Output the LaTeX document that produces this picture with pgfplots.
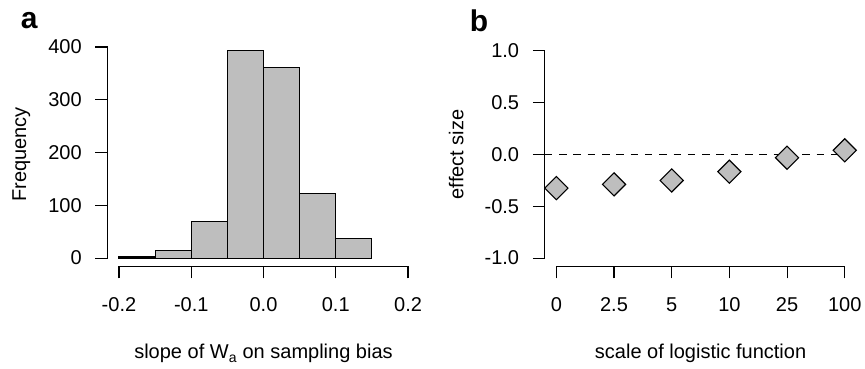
\documentclass[border=0pt]{standalone}
\usepackage{fontspec}
\setmainfont{Liberation Sans}
\usepackage{pgfplots}
\pgfplotsset{compat=1.18}
\definecolor{rgray}{RGB}{190,190,190}
\pgfplotsset{
  rstyle/.style={
    scale only axis,
    anchor=south west,
    clip=false,
    axis x line*=bottom,
    axis y line*=left,
    axis line style={draw=none},
    tick align=outside,
    major tick length=12pt,
    tick style={black, line width=1.1pt},
    minor tick num=0,
    tick label style={font=\fontsize{20}{24}\selectfont, inner sep=0pt},
    label style={font=\fontsize{20}{24}\selectfont, inner sep=0pt},
    xticklabel style={anchor=base, yshift=-33pt},
    yticklabel style={anchor=east, xshift=-13.5pt},
    xlabel style={at={(axis description cs:0.5,0)}, anchor=base, yshift=-92.6pt},
    ylabel style={rotate=0},
  }
}
\begin{document}
\begin{tikzpicture}[x=1pt,y=1pt]
\useasboundingbox (0,0) rectangle (865,369);
% ---------------- panel a ----------------
\begin{axis}[rstyle,
  at={(107.4pt,102.6pt)},
  width=312.2pt, height=224pt,
  xmin=-0.216, xmax=0.216, ymin=-15.72, ymax=408.72,
  xtick={-0.2,-0.1,0,0.1,0.2},
  xticklabels={-0.2,-0.1,0.0,0.1,0.2},
  ytick={0,100,200,300,400},
  yticklabels={0,100,200,300,400},
  xlabel={slope of W\textsubscript{a} on sampling bias},
]
\addplot[ybar interval, fill=rgray, draw=black, line width=1.1pt]
  coordinates {(-0.2,2) (-0.15,14) (-0.1,70) (-0.05,393) (0,362) (0.05,122) (0.1,37) (0.15,37)};
\draw[line width=1.1pt, line cap=rect] (axis cs:-0.2,-15.72) -- (axis cs:0.2,-15.72);
\draw[line width=1.1pt, line cap=rect] (axis cs:-0.216,0) -- (axis cs:-0.216,400);
\node[rotate=90, anchor=base, font=\fontsize{20}{24}\selectfont, inner sep=0pt]
  at ([xshift=-81.4pt]axis description cs:0,0.5) {Frequency};
\end{axis}
% ---------------- panel b ----------------
\begin{axis}[rstyle,
  at={(544.8pt,102.6pt)},
  width=311.5pt, height=224pt,
  xmin=-0.2, xmax=5.2, ymin=-1.08, ymax=1.08,
  xtick={0,1,2,3,4,5},
  xticklabels={0,2.5,5,10,25,100},
  ytick={-1,-0.5,0,0.5,1},
  yticklabels={-1.0,-0.5,0.0,0.5,1.0},
  xlabel={scale of logistic function},
]
\addplot[black, line width=1.1pt, dash pattern=on 7.5pt off 6.8pt]
  coordinates {(-0.2,0) (5.2,0)};
\addplot[only marks, mark=square*, mark size=8.2pt,
  mark options={rotate=45, fill=rgray, draw=black, line width=1.1pt, solid}]
  coordinates {(0,-0.325) (1,-0.289) (2,-0.251) (3,-0.167) (4,-0.032) (5,0.039)};
\draw[line width=1.1pt, line cap=rect] (axis cs:0,-1.08) -- (axis cs:5,-1.08);
\draw[line width=1.1pt, line cap=rect] (axis cs:-0.2,-1) -- (axis cs:-0.2,1);
\node[rotate=90, anchor=base, font=\fontsize{20}{24}\selectfont, inner sep=0pt]
  at ([xshift=-81.4pt]axis description cs:0,0.5) {effect size};
\end{axis}
% panel letters
\node[anchor=base west, inner sep=0pt, font=\fontsize{30}{36}\selectfont\bfseries] at (20.7,340.7) {a};
\node[anchor=base west, inner sep=0pt, font=\fontsize{30}{36}\selectfont\bfseries] at (469.7,337.3) {b};
\end{tikzpicture}
\end{document}
